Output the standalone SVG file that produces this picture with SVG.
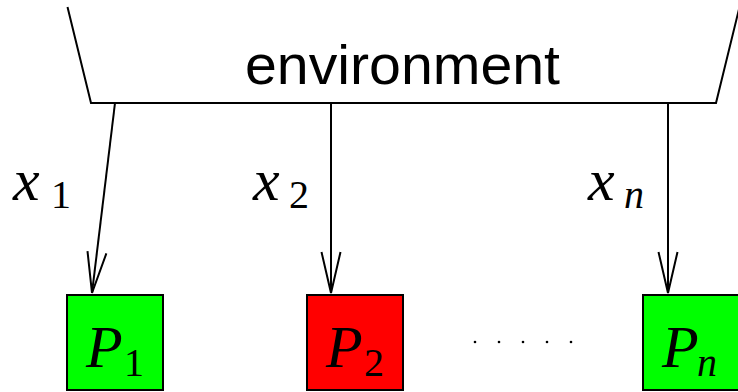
<svg xmlns="http://www.w3.org/2000/svg" width="738" height="392" viewBox="0 0 738 392">
<style>
.ln{fill:none;stroke:#000;stroke-width:2}
.box{stroke:#000;stroke-width:2}
.env{font-family:"Liberation Sans",Arial,sans-serif;font-size:56px}
.m{font-family:"Liberation Serif","Times New Roman",serif;font-style:italic;font-size:60px}
.s{font-family:"Liberation Serif","Times New Roman",serif;font-size:40px}
.si{font-family:"Liberation Serif","Times New Roman",serif;font-style:italic;font-size:40px}
</style>
<defs>
<marker id="arr" markerUnits="userSpaceOnUse" markerWidth="60" markerHeight="30" viewBox="-50 -15 60 30" refX="0" refY="0" orient="auto">
<path d="M-41,-9.5 L0,0 L-41,9.5" fill="none" stroke="#000" stroke-width="2"/>
</marker>
</defs>
<rect width="738" height="392" fill="#fff"/>
<g id="environment">
<polyline class="ln" points="67.5,7 91,103 716,103 739.5,7"/>
<text class="env" x="245" y="84" textLength="315" lengthAdjust="spacingAndGlyphs">environment</text>
</g>
<g id="connectors">
<line class="ln" x1="115" y1="103" x2="92" y2="293" marker-end="url(#arr)"/>
<line class="ln" x1="331" y1="103" x2="331" y2="293" marker-end="url(#arr)"/>
<line class="ln" x1="668" y1="103" x2="668" y2="293" marker-end="url(#arr)"/>
<text class="m" x="13" y="200">x</text><text class="s" x="51" y="208">1</text>
<text class="m" x="253" y="200">x</text><text class="s" x="289" y="208">2</text>
<text class="m" x="588" y="200">x</text><text class="si" x="624" y="208">n</text>
</g>
<g id="P1">
<rect class="box" x="67" y="295" width="96" height="95" fill="#00ff00"/>
<text class="m" x="86" y="367">P</text><text class="s" x="124" y="376">1</text>
</g>
<g id="P2">
<rect class="box" x="307" y="295" width="96" height="95" fill="#ff0000"/>
<text class="m" x="326" y="367">P</text><text class="s" x="364" y="376">2</text>
</g>
<g id="dots">
<circle cx="475" cy="342" r="1.3"/><circle cx="499" cy="342" r="1.3"/><circle cx="523" cy="342" r="1.3"/><circle cx="547" cy="342" r="1.3"/><circle cx="571" cy="342" r="1.3"/>
</g>
<g id="Pn">
<rect class="box" x="643" y="295" width="96" height="95" fill="#00ff00"/>
<text class="m" x="662" y="367">P</text><text class="si" x="697" y="376">n</text>
</g>
</svg>
